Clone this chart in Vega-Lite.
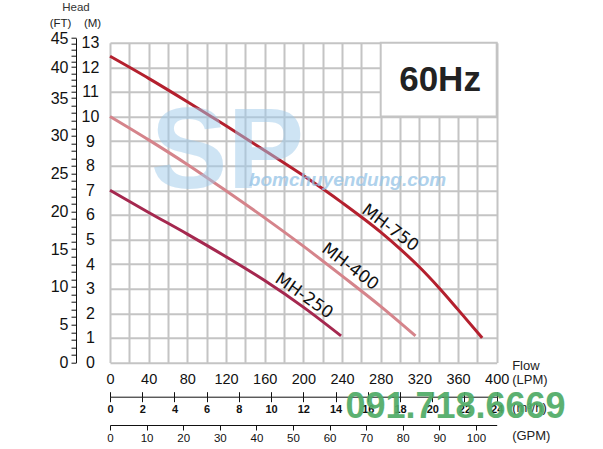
{
  "$schema": "https://vega.github.io/schema/vega-lite/v6.json",
  "width": 386.7,
  "height": 319.8,
  "autosize": {"type": "none"},
  "padding": {"left": 110, "top": 42.7, "right": 106.3, "bottom": 86.5},
  "background": "white",
  "config": {
    "view": {"stroke": null},
    "font": "Liberation Sans",
    "axis": {"labelFont": "Liberation Sans", "labelColor": "#111", "domainColor": "#111", "tickColor": "#111", "titleFont": "Liberation Sans", "titleColor": "#222", "titleFontWeight": "normal"}
  },
  "resolve": {"scale": {"x": "independent", "y": "independent"}, "axis": {"x": "independent", "y": "independent"}},
  "layer": [
    {
      "data": {"values": [{}]},
      "mark": {"type": "point", "opacity": 0},
      "encoding": {
        "x": {"datum": 0, "type": "quantitative",
          "scale": {"domain": [0, 400], "nice": false, "zero": false},
          "axis": {"orient": "bottom", "offset": 0, "values": [0,20,40,60,80,100,120,140,160,180,200,220,240,260,280,300,320,340,360,380,400],
            "grid": true, "gridColor": "#c4c4c4", "gridWidth": 2, "ticks": false, "tickSize": 0, "domain": false,
            "labelExpr": "datum.value % 40 == 0 ? datum.label : ''", "labelFontSize": 14.5, "labelPadding": 10,
            "labelOverlap": false, "labelFlush": false, "title": null}},
        "y": {"datum": 0, "type": "quantitative",
          "scale": {"domain": [0, 13], "nice": false, "zero": true},
          "axis": {"orient": "left", "offset": 0, "values": [0,1,2,3,4,5,6,7,8,9,10,11,12,13],
            "grid": true, "gridColor": "#c4c4c4", "gridWidth": 2, "ticks": false, "tickSize": 0, "domain": false,
            "labelAlign": "center", "labelPadding": 20, "labelFontSize": 16, "labelOverlap": false, "labelFlush": false,
            "title": "(M)", "titleAngle": 0, "titleX": -18, "titleY": -19.7, "titleFontSize": 11.5, "titleAlign": "center", "titleBaseline": "middle"}}
      }
    },
    {
      "layer": [
        {
          "data": {"values": [
            {"model": "MH-750", "lpm": 0, "m": 12.45},
            {"model": "MH-750", "lpm": 40, "m": 11.55},
            {"model": "MH-750", "lpm": 80, "m": 10.6},
            {"model": "MH-750", "lpm": 120, "m": 9.62},
            {"model": "MH-750", "lpm": 160, "m": 8.62},
            {"model": "MH-750", "lpm": 200, "m": 7.6},
            {"model": "MH-750", "lpm": 240, "m": 6.5},
            {"model": "MH-750", "lpm": 280, "m": 5.3},
            {"model": "MH-750", "lpm": 300, "m": 4.62},
            {"model": "MH-750", "lpm": 320, "m": 3.88},
            {"model": "MH-750", "lpm": 340, "m": 3.05},
            {"model": "MH-750", "lpm": 360, "m": 2.15},
            {"model": "MH-750", "lpm": 385, "m": 1.0},
            {"model": "MH-400", "lpm": 0, "m": 10.0},
            {"model": "MH-400", "lpm": 40, "m": 9.05},
            {"model": "MH-400", "lpm": 80, "m": 8.05},
            {"model": "MH-400", "lpm": 120, "m": 6.98},
            {"model": "MH-400", "lpm": 160, "m": 5.88},
            {"model": "MH-400", "lpm": 200, "m": 4.73},
            {"model": "MH-400", "lpm": 240, "m": 3.52},
            {"model": "MH-400", "lpm": 280, "m": 2.28},
            {"model": "MH-400", "lpm": 316, "m": 1.08},
            {"model": "MH-250", "lpm": 0, "m": 7.0},
            {"model": "MH-250", "lpm": 40, "m": 6.1},
            {"model": "MH-250", "lpm": 80, "m": 5.22},
            {"model": "MH-250", "lpm": 120, "m": 4.3},
            {"model": "MH-250", "lpm": 160, "m": 3.33},
            {"model": "MH-250", "lpm": 200, "m": 2.25},
            {"model": "MH-250", "lpm": 239, "m": 1.08}
          ]},
          "mark": {"type": "line", "strokeWidth": 3, "interpolate": "monotone"},
          "encoding": {
            "x": {"field": "lpm", "type": "quantitative", "scale": {"domain": [0, 400], "nice": false, "zero": false}, "axis": null},
            "y": {"field": "m", "type": "quantitative", "scale": {"domain": [0, 13], "nice": false, "zero": true}, "axis": null},
            "color": {"field": "model", "type": "nominal",
              "scale": {"domain": ["MH-750", "MH-400", "MH-250"], "range": ["#b4202e", "#d5848b", "#a5284f"]},
              "legend": null}
          }
        },
        {
          "data": {"values": [{}]},
          "mark": {"type": "text", "font": "Liberation Sans", "fontSize": 115, "fontWeight": "bold", "fill": "#9fcbeb", "opacity": 0.5, "align": "center", "baseline": "alphabetic"},
          "encoding": {"x": {"datum": 121.6, "type": "quantitative", "axis": null}, "y": {"datum": 7.09, "type": "quantitative", "axis": null}, "text": {"value": "SP"}}
        },
        {
          "data": {"values": [{}]},
          "mark": {"type": "text", "font": "Liberation Sans", "fontSize": 19, "fontWeight": "bold", "fontStyle": "italic", "fill": "#95c3e6", "opacity": 0.75, "align": "center", "baseline": "alphabetic"},
          "encoding": {"x": {"datum": 245.7, "type": "quantitative", "axis": null}, "y": {"datum": 7.17, "type": "quantitative", "axis": null}, "text": {"value": "bomchuyendung.com"}}
        },
        {
          "data": {"values": [{}]},
          "mark": {"type": "rect", "fill": "white", "stroke": "#c4c4c4", "strokeWidth": 2},
          "encoding": {"x": {"datum": 280, "type": "quantitative", "axis": null}, "x2": {"datum": 400}, "y": {"datum": 10, "type": "quantitative", "axis": null}, "y2": {"datum": 13}}
        },
        {
          "data": {"values": [{}]},
          "mark": {"type": "text", "font": "Liberation Sans", "fontSize": 35, "fontWeight": "bold", "fill": "#222", "align": "center", "baseline": "middle"},
          "encoding": {"x": {"datum": 341.4, "type": "quantitative", "axis": null}, "y": {"datum": 11.48, "type": "quantitative", "axis": null}, "text": {"value": "60Hz"}}
        },
        {
          "data": {"values": [{}]},
          "mark": {"type": "text", "font": "DejaVu Sans", "fontSize": 17, "fill": "#111", "align": "center", "baseline": "middle", "angle": 37},
          "encoding": {"x": {"datum": 289.7, "type": "quantitative", "axis": null}, "y": {"datum": 5.46, "type": "quantitative", "axis": null}, "text": {"value": "MH-750"}}
        },
        {
          "data": {"values": [{}]},
          "mark": {"type": "text", "font": "DejaVu Sans", "fontSize": 17, "fill": "#111", "align": "center", "baseline": "middle", "angle": 37},
          "encoding": {"x": {"datum": 248.3, "type": "quantitative", "axis": null}, "y": {"datum": 3.89, "type": "quantitative", "axis": null}, "text": {"value": "MH-400"}}
        },
        {
          "data": {"values": [{}]},
          "mark": {"type": "text", "font": "DejaVu Sans", "fontSize": 17, "fill": "#111", "align": "center", "baseline": "middle", "angle": 35},
          "encoding": {"x": {"datum": 200.7, "type": "quantitative", "axis": null}, "y": {"datum": 2.7, "type": "quantitative", "axis": null}, "text": {"value": "MH-250"}}
        },
        {
          "data": {"values": [{}]},
          "mark": {"type": "text", "font": "Liberation Sans", "fontSize": 11.5, "fill": "#333", "align": "center", "baseline": "middle"},
          "encoding": {"x": {"datum": -35.2, "type": "quantitative", "axis": null}, "y": {"datum": 14.41, "type": "quantitative", "axis": null}, "text": {"value": "Head"}}
        },
        {
          "data": {"values": [{}]},
          "mark": {"type": "text", "font": "Liberation Sans", "fontSize": 13, "fill": "#222", "align": "left", "baseline": "middle"},
          "encoding": {"x": {"datum": 416, "type": "quantitative", "axis": null}, "y": {"datum": -0.14, "type": "quantitative", "axis": null}, "text": {"value": "Flow"}}
        },
        {
          "data": {"values": [{}]},
          "mark": {"type": "text", "font": "Liberation Sans", "fontSize": 13, "fill": "#222", "align": "left", "baseline": "middle"},
          "encoding": {"x": {"datum": 416, "type": "quantitative", "axis": null}, "y": {"datum": -0.71, "type": "quantitative", "axis": null}, "text": {"value": "(LPM)"}}
        },
        {
          "data": {"values": [{}]},
          "mark": {"type": "text", "font": "Liberation Sans", "fontSize": 13, "fill": "#222", "align": "left", "baseline": "middle"},
          "encoding": {"x": {"datum": 416, "type": "quantitative", "axis": null}, "y": {"datum": -1.85, "type": "quantitative", "axis": null}, "text": {"value": "(m³/h)"}}
        },
        {
          "data": {"values": [{}]},
          "mark": {"type": "text", "font": "Liberation Sans", "fontSize": 13, "fill": "#222", "align": "left", "baseline": "middle"},
          "encoding": {"x": {"datum": 416, "type": "quantitative", "axis": null}, "y": {"datum": -2.99, "type": "quantitative", "axis": null}, "text": {"value": "(GPM)"}}
        },
        {
          "data": {"values": [{}]},
          "mark": {"type": "text", "font": "Liberation Sans", "fontSize": 36, "fontWeight": "bold", "fill": "#4fab66", "opacity": 0.92, "align": "center", "baseline": "alphabetic"},
          "encoding": {"x": {"datum": 357.4, "type": "quantitative", "axis": null}, "y": {"datum": -2.256, "type": "quantitative", "axis": null}, "text": {"value": "091.718.6669"}}
        }
      ]
    },
    {
      "data": {"values": [{}]},
      "mark": {"type": "point", "opacity": 0},
      "encoding": {
        "y": {"datum": 0, "type": "quantitative",
          "scale": {"domain": [0, 35, 40, 45], "range": [319.8, 55.3, 24.3, -4.7], "nice": false, "zero": false},
          "axis": {"orient": "left", "offset": 34, "values": [0,1,2,3,4,5,6,7,8,9,10,11,12,13,14,15,16,17,18,19,20,21,22,23,24,25,26,27,28,29,30,31,32,33,34,35,36,37,38,39,40,41,42,43,44,45],
            "tickSize": 5, "domain": true, "grid": false,
            "labelExpr": "datum.value % 5 == 0 ? datum.label : ''", "labelFontSize": 16, "labelPadding": 3,
            "labelOverlap": false, "labelFlush": false,
            "title": "(FT)", "titleAngle": 0, "titleX": -16, "titleY": -19.7, "titleFontSize": 11.5, "titleAlign": "center", "titleBaseline": "middle"}}
      }
    },
    {
      "data": {"values": [{}]},
      "mark": {"type": "point", "opacity": 0},
      "encoding": {
        "x": {"datum": 0, "type": "quantitative",
          "scale": {"domain": [0, 24], "nice": false, "zero": true},
          "axis": {"orient": "bottom", "offset": 34.2, "values": [0,2,4,6,8,10,12,14,16,18,20,22,24],
            "tickSize": 5, "domain": true, "grid": false, "labelFontSize": 11, "labelFontWeight": "bold", "labelPadding": 2,
            "labelOverlap": false, "labelFlush": false, "title": null}}
      }
    },
    {
      "data": {"values": [{}]},
      "mark": {"type": "point", "opacity": 0},
      "encoding": {
        "x": {"datum": 0, "type": "quantitative",
          "scale": {"domain": [0, 24], "nice": false, "zero": true},
          "axis": {"orient": "bottom", "offset": 34.2, "values": [0,2,4,6,8,10,12,14,16,18,20,22,24],
            "tickSize": -5, "domain": false, "grid": false, "labels": false, "title": null}}
      }
    },
    {
      "data": {"values": [{}]},
      "mark": {"type": "point", "opacity": 0},
      "encoding": {
        "x": {"datum": 0, "type": "quantitative",
          "scale": {"domain": [0, 105.67], "nice": false, "zero": true},
          "axis": {"orient": "bottom", "offset": 62.5, "values": [0,10,20,30,40,50,60,70,80,90,100],
            "tickSize": 5, "domain": true, "grid": false, "labelFontSize": 11.5, "labelPadding": 2,
            "labelOverlap": false, "labelFlush": false, "title": null}}
      }
    }
  ]
}
